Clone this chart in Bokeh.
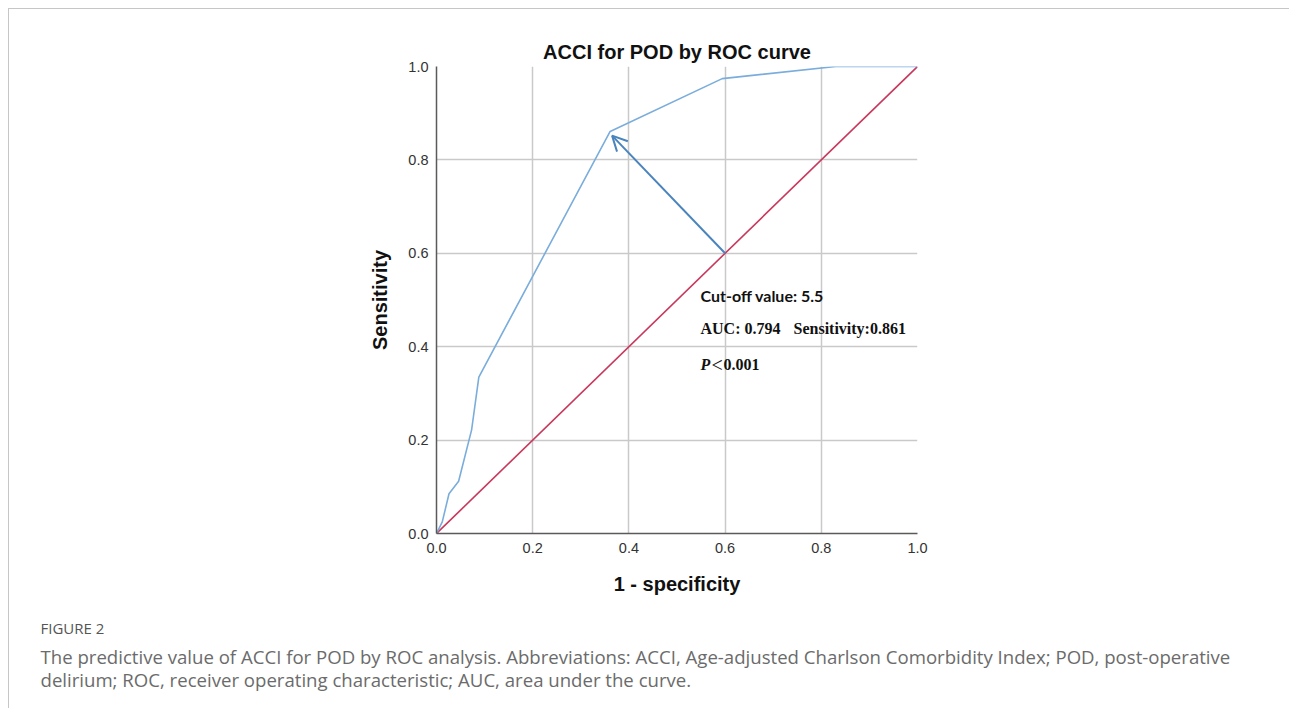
from bokeh.plotting import figure
from bokeh.models import Range1d, FixedTicker, Label, Arrow, OpenHead, Title
from bokeh.embed import file_html
from bokeh.resources import INLINE

# ---- data ----
fpr = [0.0, 0.012, 0.026, 0.046, 0.073, 0.088, 0.361, 0.594, 0.83, 1.0]
tpr = [0.0, 0.025, 0.085, 0.112, 0.222, 0.335, 0.861, 0.974, 1.0, 1.0]
ref_x = [0.0, 1.0]
ref_y = [0.0, 1.0]
cutoff_start = [0.6, 0.6]
cutoff_end = [0.365, 0.852]
ticks = [0.0, 0.2, 0.4, 0.6, 0.8, 1.0]
tick_labels = ["0.0", "0.2", "0.4", "0.6", "0.8", "1.0"]

title_text = "ACCI for POD by ROC curve"
x_label = "1 - specificity"
y_label = "Sensitivity"
note_cutoff = "Cut-off value: 5.5"
note_auc = "AUC: 0.794"
note_sens = "Sensitivity:0.861"
fig_tag = "FIGURE 2"
caption_1 = ("The predictive value of ACCI for POD by ROC analysis. Abbreviations: ACCI, "
             "Age-adjusted Charlson Comorbidity Index; POD, post-operative")
caption_2 = "delirium; ROC, receiver operating characteristic; AUC, area under the curve."

# ---- layout geometry (canvas pixels) ----
W, H = 1281, 700
ORIGIN = 9          # canvas origin on the page (8px margin + 1px border)
FL, FW = 427, 481   # frame left / width
FT, FH = 57, 467    # frame top / height


def px2x(px):
    return (px - ORIGIN - FL) / FW


def px2y(py):
    return 1 - (py - ORIGIN - FT) / FH


p = figure(width=W, height=H, output_backend="svg", toolbar_location=None,
           x_range=Range1d(0, 1), y_range=Range1d(0, 1),
           min_border_left=FL, min_border_right=W - FL - FW,
           min_border_top=FT, min_border_bottom=H - FT - FH)
p.styles = {"margin-top": "8px", "margin-left": "8px",
            "border-top": "1px solid #c6c6c6", "border-left": "1px solid #c6c6c6"}
p.outline_line_color = None
p.background_fill_color = "white"
p.border_fill_color = "white"

p.title.text = title_text
p.title.align = "center"
p.title.text_font = "Liberation Sans"
p.title.text_font_style = "bold"
p.title.text_font_size = "20px"
p.title.text_color = "#111111"
p.title.standoff = 7

for ax in (p.xaxis[0], p.yaxis[0]):
    ax.ticker = FixedTicker(ticks=ticks)
    ax.major_label_overrides = {t: l for t, l in zip(ticks, tick_labels)}
    ax.major_tick_in = 0
    ax.major_tick_out = 0
    ax.minor_tick_line_color = None
    ax.axis_line_color = "#5a5a5a"
    ax.axis_line_width = 1.5
    ax.major_label_text_font = "Liberation Sans"
    ax.major_label_text_font_size = "14.5px"
    ax.major_label_text_color = "#333333"
    ax.axis_label_text_font = "Liberation Sans"
    ax.axis_label_text_font_size = "20px"
    ax.axis_label_text_font_style = "bold"
    ax.axis_label_text_color = "#111111"

p.xaxis.axis_label = x_label
p.yaxis.axis_label = y_label
p.xaxis.major_label_standoff = 9
p.yaxis.major_label_standoff = 8
p.xaxis.axis_label_standoff = 17
p.yaxis.axis_label_standoff = 14

for g in (p.xgrid[0], p.ygrid[0]):
    g.ticker = FixedTicker(ticks=ticks)
    g.grid_line_color = "#c9c9c9"
    g.grid_line_width = 1.5

p.line(ref_x, ref_y, line_color="#c8385c", line_width=1.6)
p.line(fpr, tpr, line_color="#7aaddc", line_width=1.6)

p.add_layout(Arrow(x_start=cutoff_start[0], y_start=cutoff_start[1],
                   x_end=cutoff_end[0], y_end=cutoff_end[1],
                   line_color="#4a84bd", line_width=2,
                   end=OpenHead(size=15, line_color="#4a84bd", line_width=2)))

# annotations inside the plot
p.add_layout(Label(x=px2x(700), y=px2y(295), text=note_cutoff, text_baseline="middle",
                   text_font="Lato", text_font_style="bold", text_font_size="16px",
                   text_color="#111111"))
p.add_layout(Label(x=px2x(700), y=px2y(328), text=note_auc, text_baseline="middle",
                   text_font="Liberation Serif", text_font_style="bold",
                   text_font_size="16px", text_color="#111111"))
p.add_layout(Label(x=px2x(793), y=px2y(328), text=note_sens, text_baseline="middle",
                   text_font="Liberation Serif", text_font_style="bold",
                   text_font_size="16px", text_color="#111111"))
p.add_layout(Label(x=px2x(700), y=px2y(364), text="P", text_baseline="middle",
                   text_font="Liberation Serif", text_font_style="bold italic",
                   text_font_size="16px", text_color="#111111"))
p.add_layout(Label(x=px2x(711), y=px2y(364), text="<", text_baseline="middle",
                   text_font="Liberation Serif", text_font_style="normal",
                   text_font_size="20px", text_color="#111111"))
p.add_layout(Label(x=px2x(723), y=px2y(364), text="0.001", text_baseline="middle",
                   text_font="Liberation Serif", text_font_style="bold",
                   text_font_size="16px", text_color="#111111"))

# caption below the chart (stacked under the x axis)
CAP_OFFSET = 40 - ORIGIN - FL
p.add_layout(Title(text=" ", align="left", standoff=13, text_font_size="1px"), "below")
p.add_layout(Title(text=fig_tag, align="left", offset=CAP_OFFSET, standoff=4,
                   text_font="Open Sans", text_font_style="normal",
                   text_font_size="15px", text_color="#555555"), "below")
p.add_layout(Title(text=caption_1 + "\n" + caption_2, align="left", offset=CAP_OFFSET,
                   standoff=4, text_font="Open Sans", text_font_style="normal",
                   text_font_size="18.6px", text_line_height=0.91,
                   text_color="#6b6b6b"), "below")

open("out.html", "w").write(file_html(p, INLINE))
